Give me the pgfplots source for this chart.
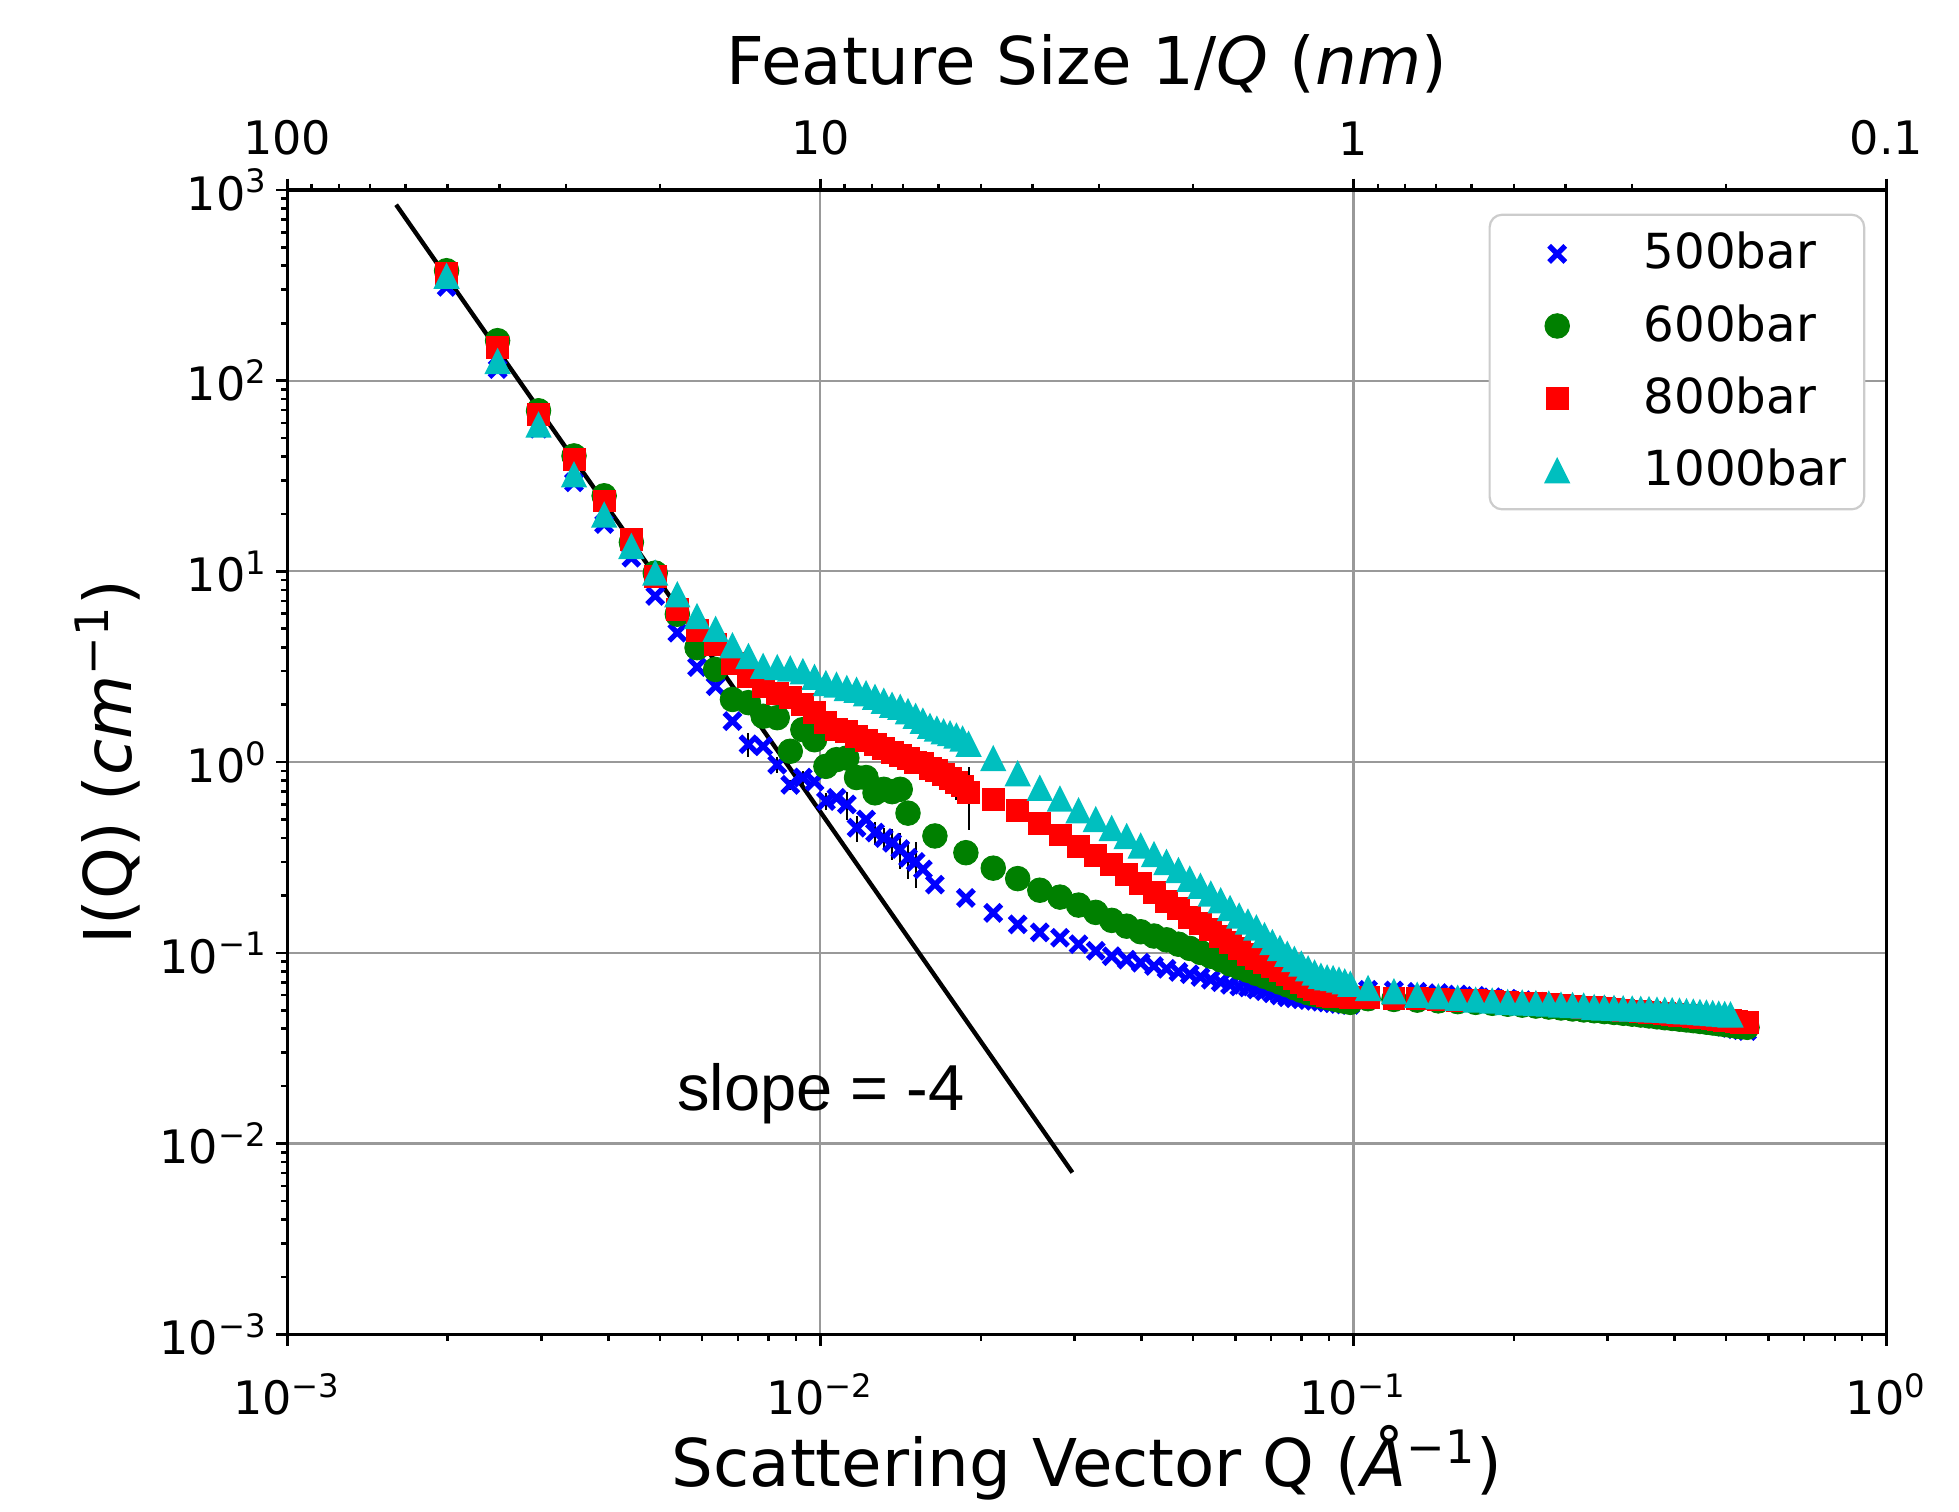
\documentclass[border=0pt]{standalone}
\usepackage{pgfplots}
\pgfplotsset{compat=1.18}
\usepackage{pgfplotstable}
\usepackage{fontspec}
\setmainfont{DejaVu Sans}
\newfontfamily\arialfont{Liberation Sans}

\definecolor{mplblue}{RGB}{0,0,255}
\definecolor{mplgreen}{RGB}{0,128,0}
\definecolor{mplred}{RGB}{255,0,0}
\definecolor{mplcyan}{RGB}{0,191,191}

% matplotlib style '^' marker
\pgfdeclareplotmark{mtri}{%
  \pgfpathmoveto{\pgfqpoint{0pt}{\pgfplotmarksize}}%
  \pgfpathlineto{\pgfqpoint{-\pgfplotmarksize}{-\pgfplotmarksize}}%
  \pgfpathlineto{\pgfqpoint{\pgfplotmarksize}{-\pgfplotmarksize}}%
  \pgfpathclose
  \pgfusepathqfill}

% 500 bar
\pgfplotstableread{
Q I
0.00199 310
0.00248 115
0.00296 56
0.00345 29.3
0.00393 17.7
0.00442 11.8
0.00490 7.43
0.00539 4.77
0.00587 3.15
0.00636 2.5
0.00684 1.64
0.00733 1.24
0.00781 1.21
0.00830 0.97
0.00878 0.76
0.00927 0.83
0.00975 0.79
0.01024 0.625
0.01072 0.65
0.01121 0.60
0.01169 0.453
0.01218 0.50
0.01266 0.427
0.01315 0.40
0.01363 0.378
0.01412 0.35
0.01460 0.315
0.01509 0.30
0.01557 0.274
0.0164 0.228
0.01875 0.194
0.0211 0.162
0.02345 0.141
0.0258 0.128
0.02815 0.12
0.0305 0.111
0.03285 0.1025
0.0352 0.096
0.03755 0.092
0.0399 0.0887
0.04225 0.0853
0.0446 0.0825
0.04695 0.0795
0.0493 0.0772
0.05165 0.0748
0.054 0.0723
0.05635 0.0702
0.0587 0.0680
0.06105 0.0666
0.0634 0.0658
0.06575 0.0643
0.0681 0.0630
0.07045 0.0614
0.0728 0.0598
0.07515 0.0585
0.0775 0.0578
0.07985 0.0571
0.0822 0.0566
0.08455 0.0560
0.0869 0.0554
0.08925 0.0549
0.0916 0.0544
0.09395 0.0540
0.0963 0.0536
0.09865 0.0533
0.1065 0.064
0.1191 0.0635
0.1317 0.0625
0.1443 0.0615
0.1569 0.0605
0.1695 0.0595
0.1821 0.0585
0.1947 0.0575
0.2073 0.0565
0.2199 0.0555
0.2325 0.0545
0.2451 0.0535
0.2577 0.0527
0.2703 0.052
0.2829 0.0513
0.2955 0.0506
0.3081 0.05
0.3207 0.0494
0.3333 0.0488
0.3459 0.0482
0.3585 0.0476
0.3711 0.047
0.3837 0.0464
0.3963 0.0458
0.4089 0.0452
0.4215 0.0446
0.4341 0.044
0.4467 0.0434
0.4593 0.0428
0.4719 0.0422
0.4845 0.0416
0.4971 0.041
0.5097 0.0404
0.5223 0.0398
0.5349 0.0393
0.5475 0.0389
}\dfive

% 600 bar
\pgfplotstableread{
Q I
0.00199 377
0.00248 162
0.00296 69.5
0.00345 40.3
0.00393 24.9
0.00442 14.2
0.00490 9.8
0.00539 5.96
0.00587 3.98
0.00636 3.06
0.00684 2.13
0.00733 2.05
0.00781 1.74
0.00830 1.71
0.00878 1.14
0.00927 1.48
0.00975 1.31
0.01024 0.95
0.01072 1.03
0.01121 1.05
0.01169 0.83
0.01218 0.83
0.01266 0.69
0.01315 0.72
0.01363 0.70
0.01412 0.72
0.01460 0.54
0.0164 0.41
0.01875 0.335
0.0211 0.278
0.02345 0.245
0.0258 0.213
0.02815 0.196
0.0305 0.178
0.03285 0.163
0.0352 0.148
0.03755 0.138
0.0399 0.129
0.04225 0.1225
0.0446 0.117
0.04695 0.111
0.0493 0.1055
0.05165 0.1005
0.054 0.096
0.05635 0.092
0.0587 0.0875
0.06105 0.084
0.0634 0.081
0.06575 0.078
0.0681 0.0753
0.07045 0.0728
0.0728 0.0702
0.07515 0.068
0.0775 0.0657
0.07985 0.0636
0.0822 0.0618
0.08455 0.0605
0.0869 0.0594
0.08925 0.0584
0.0916 0.0574
0.09395 0.0565
0.0963 0.0557
0.09865 0.055
0.1065 0.0575
0.1191 0.057
0.1317 0.0565
0.1443 0.056
0.1569 0.0555
0.1695 0.055
0.1821 0.0544
0.1947 0.0538
0.2073 0.0532
0.2199 0.0526
0.2325 0.052
0.2451 0.0514
0.2577 0.0508
0.2703 0.0502
0.2829 0.0497
0.2955 0.0492
0.3081 0.0487
0.3207 0.0482
0.3333 0.0477
0.3459 0.0472
0.3585 0.0467
0.3711 0.0462
0.3837 0.0457
0.3963 0.0453
0.4089 0.0449
0.4215 0.0445
0.4341 0.0441
0.4467 0.0437
0.4593 0.0433
0.4719 0.0429
0.4845 0.0425
0.4971 0.0421
0.5097 0.0417
0.5223 0.0413
0.5349 0.041
0.5475 0.0407
}\dsix

% 800 bar
\pgfplotstableread{
Q I
0.00199 365
0.00248 149
0.00296 66.7
0.00345 38.7
0.00393 23.4
0.00442 14.7
0.00490 9.46
0.00539 6.32
0.00587 4.9
0.00636 4.14
0.00684 3.3
0.00733 2.8
0.00781 2.5
0.00830 2.3
0.00878 2.18
0.00927 2.0
0.00975 1.82
0.01024 1.62
0.01072 1.49
0.01121 1.45
0.01169 1.37
0.01218 1.30
0.01266 1.24
0.01315 1.18
0.01363 1.12
0.01412 1.08
0.01460 1.04
0.01509 1.0
0.01557 0.99
0.01606 0.93
0.01654 0.90
0.01703 0.86
0.01751 0.82
0.01800 0.78
0.01848 0.75
0.01897 0.69
0.0211 0.635
0.02345 0.56
0.0258 0.478
0.02815 0.415
0.0305 0.362
0.03285 0.323
0.0352 0.29
0.03755 0.258
0.0399 0.23
0.04225 0.208
0.0446 0.186
0.04695 0.17
0.0493 0.154
0.05165 0.142
0.054 0.132
0.05635 0.122
0.0587 0.113
0.06105 0.105
0.0634 0.098
0.06575 0.094
0.0681 0.089
0.07045 0.085
0.0728 0.081
0.07515 0.077
0.0775 0.073
0.07985 0.0697
0.0822 0.067
0.08455 0.064
0.0869 0.0615
0.08925 0.060
0.0916 0.059
0.09395 0.059
0.0963 0.0588
0.09865 0.0585
0.1065 0.0585
0.1191 0.058
0.1317 0.0575
0.1443 0.057
0.1569 0.0565
0.1695 0.056
0.1821 0.0555
0.1947 0.055
0.2073 0.0545
0.2199 0.054
0.2325 0.0535
0.2451 0.053
0.2577 0.0525
0.2703 0.052
0.2829 0.0515
0.2955 0.051
0.3081 0.0505
0.3207 0.05
0.3333 0.0496
0.3459 0.0492
0.3585 0.0488
0.3711 0.0484
0.3837 0.048
0.3963 0.0476
0.4089 0.0472
0.4215 0.0468
0.4341 0.0464
0.4467 0.046
0.4593 0.0456
0.4719 0.0452
0.4845 0.0448
0.4971 0.0444
0.5097 0.044
0.5223 0.0437
0.5349 0.0434
0.5475 0.0431
}\deight

% 1000 bar
\pgfplotstableread{
Q I
0.00199 355
0.00248 127
0.00296 59
0.00345 32.3
0.00393 19.9
0.00442 13.6
0.00490 9.86
0.00539 7.59
0.00587 5.83
0.00636 5.0
0.00684 4.1
0.00733 3.6
0.00781 3.2
0.00830 3.15
0.00878 3.1
0.00927 3.0
0.00975 2.8
0.01024 2.6
0.01072 2.55
0.01121 2.45
0.01169 2.4
0.01218 2.3
0.01266 2.2
0.01315 2.1
0.01363 2.0
0.01412 1.95
0.01460 1.85
0.01509 1.75
0.01557 1.65
0.01606 1.55
0.01654 1.5
0.01703 1.45
0.01751 1.42
0.01800 1.38
0.01848 1.33
0.01897 1.25
0.0211 1.05
0.02345 0.875
0.0258 0.734
0.02815 0.645
0.0305 0.56
0.03285 0.503
0.0352 0.452
0.03755 0.41
0.0399 0.366
0.04225 0.33
0.0446 0.30
0.04695 0.272
0.0493 0.245
0.05165 0.225
0.054 0.205
0.05635 0.189
0.0587 0.172
0.06105 0.157
0.0634 0.146
0.06575 0.136
0.0681 0.124
0.07045 0.114
0.0728 0.106
0.07515 0.099
0.0775 0.093
0.07985 0.088
0.0822 0.083
0.08455 0.079
0.0869 0.076
0.08925 0.0745
0.0916 0.0738
0.09395 0.0725
0.0963 0.071
0.09865 0.069
0.1065 0.0655
0.1191 0.0629
0.1317 0.0604
0.1443 0.0592
0.1569 0.0582
0.1695 0.0569
0.1821 0.0563
0.1947 0.0553
0.2073 0.055
0.2199 0.0546
0.2325 0.0543
0.2451 0.0536
0.2577 0.0533
0.2703 0.053
0.2829 0.0521
0.2955 0.0517
0.3081 0.0515
0.3207 0.0513
0.3333 0.0511
0.3459 0.0509
0.3585 0.0507
0.3711 0.0505
0.3837 0.0503
0.3963 0.0500
0.4089 0.0498
0.4215 0.0495
0.4341 0.0493
0.4467 0.049
0.4593 0.0487
0.4719 0.0484
0.4845 0.0481
0.4971 0.0478
0.5097 0.0476
}\dthousand

\begin{document}
\begin{tikzpicture}
\useasboundingbox (-23mm,-14.2mm) rectangle (133.8mm,106.8mm);
\begin{axis}[
    name=main,
    scale only axis,
    width=128mm, height=91.6mm,
    xmode=log, ymode=log,
    xmin=1e-3, xmax=1, ymin=1e-3, ymax=1e3,
    xtick={1e-3,1e-2,1e-1,1},
    xticklabels={10\textsuperscript{−3},10\textsuperscript{−2},10\textsuperscript{−1},10\textsuperscript{0}},
    ytick={1e-3,1e-2,1e-1,1,1e1,1e2,1e3},
    yticklabels={10\textsuperscript{−3},10\textsuperscript{−2},10\textsuperscript{−1},10\textsuperscript{0},10\textsuperscript{1},10\textsuperscript{2},10\textsuperscript{3}},
    tick align=outside, tick pos=left,
    major tick length=0.9mm, minor tick length=0.5mm,
    every tick/.style={black, line width=0.6pt},
    axis line style={line width=0.8pt},
    grid=major,
    major grid style={black!40, line width=0.5pt},
    ticklabel style={font=\fontsize{10.5}{12}\selectfont},
    xticklabel style={yshift=-1mm},
    yticklabel style={xshift=0.6mm},
    xlabel={Scattering Vector Q (\textit{Å}\textsuperscript{−1})},
    ylabel={I(Q) (\textit{cm}\textsuperscript{−1})},
    xlabel style={font=\fontsize{15}{18}\selectfont, at={(axis description cs:0.5,0)}, anchor=base, yshift=-12.2mm},
    ylabel style={font=\fontsize{15}{18}\selectfont, at={(axis description cs:0,0.5)}, anchor=base, yshift=12.5mm},
    legend style={at={(1,1)}, anchor=north east, xshift=-1.7mm, yshift=-1.9mm,
        draw=black!20, line width=0.5pt, rounded corners=1mm, fill=white,
        font=\fontsize{11}{13}\selectfont, inner sep=0.7mm, row sep=0.9mm,
        /tikz/every even column/.append style={column sep=1mm}},
    legend cell align=left,
    legend image code/.code={\draw[sharp corners,#1] plot coordinates {(0.45cm,0cm)}; \path (0cm,0cm) (1.05cm,0cm);},
]
\addplot[only marks, mark=x, mark size=2.6pt, color=mplblue, line width=1.2pt] table[x=Q,y=I]{\dfive};
\addplot[forget plot, draw=none, mark=none,
    error bars/.cd, y dir=both, y explicit,
    error bar style={draw=black, line width=0.45pt}, error mark=none] coordinates {
    (0.00733,1.24) +- (0,0.18)
    (0.00830,0.97) +- (0,0.09)
    (0.00878,0.76) +- (0,0.05)
    (0.00927,0.83) +- (0,0.07)
    (0.01024,0.625) +- (0,0.065)
    (0.01121,0.60) +- (0,0.1)
    (0.01169,0.453) +- (0,0.07)
    (0.01266,0.427) +- (0,0.06)
    (0.01315,0.40) +- (0,0.05)
    (0.01363,0.378) +- (0,0.07)
    (0.01412,0.35) +- (0,0.075)
    (0.01460,0.315) +- (0,0.07)
    (0.01509,0.30) +- (0,0.08)
};
\addplot[only marks, mark=*, mark size=2.8pt, color=mplgreen, line width=0.2pt] table[x=Q,y=I]{\dsix};
\addplot[only marks, mark=square*, mark size=2.5pt, color=mplred, line width=0.2pt] table[x=Q,y=I]{\deight};
\addplot[forget plot, draw=none, mark=none,
    error bars/.cd, y dir=both, y explicit,
    error bar style={draw=black, line width=0.45pt}, error mark=none] coordinates {
    (0.01800,0.78) +- (0,0.15)
    (0.01897,0.69) +- (0,0.25)
};
\addplot[only marks, mark=mtri, mark size=3.0pt, color=mplcyan] table[x=Q,y=I]{\dthousand};
% Porod slope guide
\addplot[forget plot, black, line width=1pt] coordinates {(0.0016,836) (0.0297,0.00705)};
\node[anchor=base west, inner sep=0, font=\arialfont\fontsize{14.8}{17}\selectfont] at (axis cs:0.00537,0.01488) {slope = -4};
\legend{500bar,600bar,800bar,1000bar}
\end{axis}
\begin{axis}[
    scale only axis,
    width=128mm, height=91.6mm,
    xmode=log,
    xmin=1e-3, xmax=1, ymin=0, ymax=1,
    axis x line*=top, axis y line=none,
    xtick={1e-3,1e-2,1e-1,1},
    xticklabels={100,10,1,0.1},
    minor xtick={0.001111,0.00125,0.0014286,0.0016667,0.002,0.0025,0.0033333,0.005,
                 0.011111,0.0125,0.014286,0.016667,0.02,0.025,0.033333,0.05,
                 0.11111,0.125,0.14286,0.16667,0.2,0.25,0.33333,0.5},
    tick align=outside,
    major tick length=0.9mm, minor tick length=0.5mm,
    every tick/.style={black, line width=0.6pt},
    axis line style={line width=0.8pt},
    ticklabel style={font=\fontsize{10.5}{12}\selectfont},
    xticklabel style={yshift=0.6mm},
    xlabel={Feature Size 1/\textit{Q} (\textit{nm})},
    xlabel style={font=\fontsize{15}{18}\selectfont, at={(axis description cs:0.5,1)}, anchor=base, yshift=8.4mm},
]
\end{axis}
\end{tikzpicture}
\end{document}
